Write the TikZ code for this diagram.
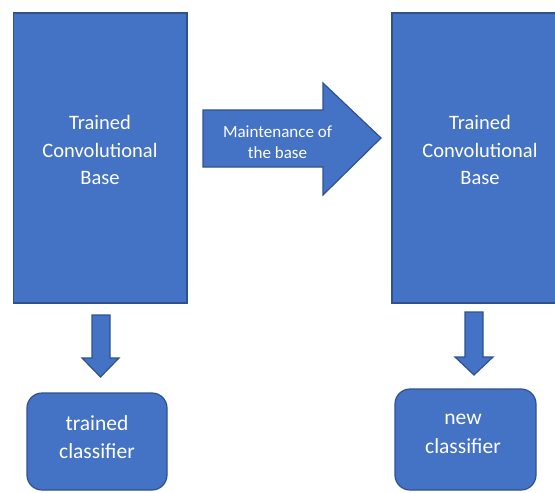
\documentclass[tikz,border=0pt]{standalone}
\usepackage{fontspec}
\setmainfont{Carlito}
\definecolor{ofill}{HTML}{4472C4}
\definecolor{oline}{HTML}{2F528F}
\tikzset{
  blueshape/.style={fill=ofill, draw=oline, line width=1.2pt},
  lbl/.style={text=white, align=center, font=\fontsize{20.5}{27.5}\selectfont},
  clslbl/.style={text=white, align=center, font=\fontsize{21.5}{28.5}\selectfont},
  smalllbl/.style={text=white, align=center, font=\fontsize{17}{21.5}\selectfont}
}
\begin{document}
\begin{tikzpicture}[x=1pt,y=-1pt]
\useasboundingbox (0,0) rectangle (555,493);
\clip (0,0) rectangle (555,493);
% big rectangles
\draw[blueshape] (13.5,13) rectangle (187,303);
\node[lbl] (base1) at (100,150) {Trained\\Convolutional\\Base};
\draw[blueshape] (392,13) rectangle (600,303);
\node[lbl] (base2) at (480,150) {Trained\\Convolutional\\Base};
% big right arrow
\draw[blueshape] (203,110) -- (323,110) -- (323,83) -- (381,138) -- (323,195) -- (323,167) -- (203,167) -- cycle;
\node[smalllbl] (maint) at (277.5,142) {Maintenance of\\the base};
% down arrows
\draw[blueshape] (92,315) -- (110,315) -- (110,358) -- (119,358) -- (100.5,377) -- (82,358) -- (92,358) -- cycle;
\draw[blueshape] (465,312) -- (483,312) -- (483,357) -- (493,357) -- (474,375) -- (455,357) -- (465,357) -- cycle;
% classifier boxes
\draw[blueshape, rounded corners=15pt] (27,393) rectangle (167,490);
\node[clslbl] (cls1) at (97,437) {trained\\classifier};
\draw[blueshape, rounded corners=15pt] (395,389) rectangle (536,490);
\node[clslbl] (cls2) at (463,434) {new\\classifier};
\end{tikzpicture}
\end{document}
